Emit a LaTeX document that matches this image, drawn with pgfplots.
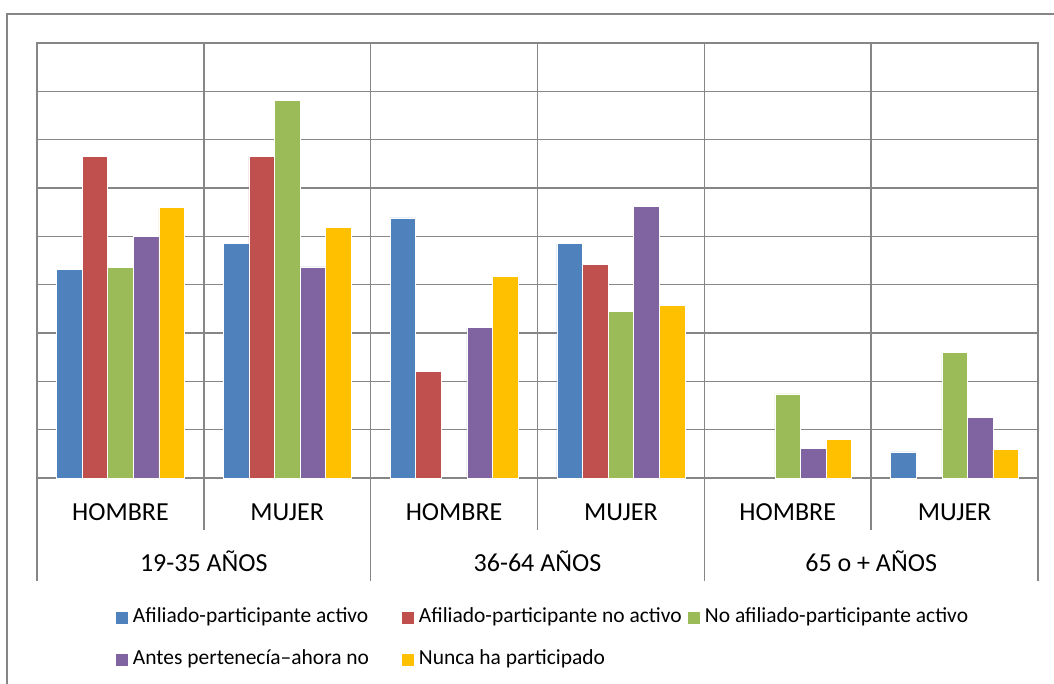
\documentclass[border=0pt]{standalone}
\usepackage{pgfplots}
\pgfplotsset{compat=1.18}
\usepackage{fontspec}
\setmainfont{Carlito}
\definecolor{cblue}{HTML}{4F81BD}
\definecolor{cred}{HTML}{C0504D}
\definecolor{cgreen}{HTML}{9BBB59}
\definecolor{cpurple}{HTML}{8064A2}
\definecolor{cyellow}{HTML}{FFC000}
\definecolor{gridc}{HTML}{868686}
\begin{document}
\begin{tikzpicture}
\path[use as bounding box] (-27.75pt,-153.75pt) rectangle (762.75pt,358.5pt);
\draw[gridc, line width=1.05pt] (-22.5pt,-160pt) -- (-22.5pt,348pt) -- (770pt,348pt);
\begin{axis}[
  at={(0pt,0pt)}, anchor=south west,
  scale only axis, width=750.75pt, height=326.25pt,
  clip=false,
  ybar=0pt, bar width=19.2pt,
  xmin=-0.5, xmax=5.5, ymin=0, ymax=9,
  xtick={0,1,2,3,4,5},
  xticklabels={HOMBRE,MUJER,HOMBRE,MUJER,HOMBRE,MUJER},
  xticklabel style={anchor=base, yshift=-32pt, font=\fontsize{19.5}{23}\selectfont},
  ytick={0,1,...,9}, yticklabels={},
  major tick length=0pt,
  ymajorgrids,
  grid style={gridc, line width=1.1pt},
  axis line style={gridc, line width=1.1pt},
  every axis plot/.append style={draw=white, line width=0.4pt},
  legend image code/.code={\fill[#1, draw=none] (0pt,-4.5pt) rectangle (9pt,4.5pt);},
  legend style={at={(axis description cs:0.0789,-0.2972)}, anchor=north west,
    draw=none, fill=none, inner sep=0pt, outer sep=0pt,
    font=\fontsize{16.1}{19}\selectfont, legend columns=3,
    nodes={inner sep=0pt, text height=11.5pt, text depth=4pt},
    row sep=16pt,
    /tikz/every odd column/.append style={column sep=3.75pt}},
  legend cell align=left,
]
\addplot[fill=cblue] coordinates {(0,4.32) (1,4.86) (2,5.38) (3,4.85) (5,0.54)};
\addlegendentry{\makebox[201.75pt][l]{Afiliado-participante activo}}
\addplot[fill=cred] coordinates {(0,6.66) (1,6.66) (2,2.21) (3,4.42)};
\addlegendentry{\makebox[201.75pt][l]{Afiliado-participante no activo}}
\addplot[fill=cgreen] coordinates {(0,4.35) (1,7.82) (3,3.45) (4,1.74) (5,2.60)};
\addlegendentry{\makebox[201.75pt][l]{No afiliado-participante activo}}
\addplot[fill=cpurple] coordinates {(0,5.00) (1,4.37) (2,3.11) (3,5.62) (4,0.61) (5,1.25)};
\addlegendentry{\makebox[201.75pt][l]{Antes pertenecía–ahora no}}
\addplot[fill=cyellow] coordinates {(0,5.60) (1,5.19) (2,4.17) (3,3.57) (4,0.80) (5,0.59)};
\addlegendentry{\makebox[201.75pt][l]{Nunca ha participado}}
% separators
\draw[gridc, line width=1.1pt] (axis cs:0.5,9) -- ([yshift=-39pt]axis cs:0.5,0);
\draw[gridc, line width=1.1pt] (axis cs:2.5,9) -- ([yshift=-39pt]axis cs:2.5,0);
\draw[gridc, line width=1.1pt] (axis cs:4.5,9) -- ([yshift=-39pt]axis cs:4.5,0);
\draw[gridc, line width=1.1pt] (axis cs:-0.5,9) -- ([yshift=-77.25pt]axis cs:-0.5,0);
\draw[gridc, line width=1.1pt] (axis cs:1.5,9) -- ([yshift=-77.25pt]axis cs:1.5,0);
\draw[gridc, line width=1.1pt] (axis cs:3.5,9) -- ([yshift=-77.25pt]axis cs:3.5,0);
\draw[gridc, line width=1.1pt] (axis cs:5.5,9) -- ([yshift=-77.25pt]axis cs:5.5,0);
\node[anchor=base, font=\fontsize{19.5}{23}\selectfont] at ([yshift=-70.3pt]axis cs:0.5,0) {19-35 AÑOS};
\node[anchor=base, font=\fontsize{19.5}{23}\selectfont] at ([yshift=-70.3pt]axis cs:2.5,0) {36-64 AÑOS};
\node[anchor=base, font=\fontsize{19.5}{23}\selectfont] at ([yshift=-70.3pt]axis cs:4.5,0) {65 o + AÑOS};
\end{axis}
\end{tikzpicture}
\end{document}
